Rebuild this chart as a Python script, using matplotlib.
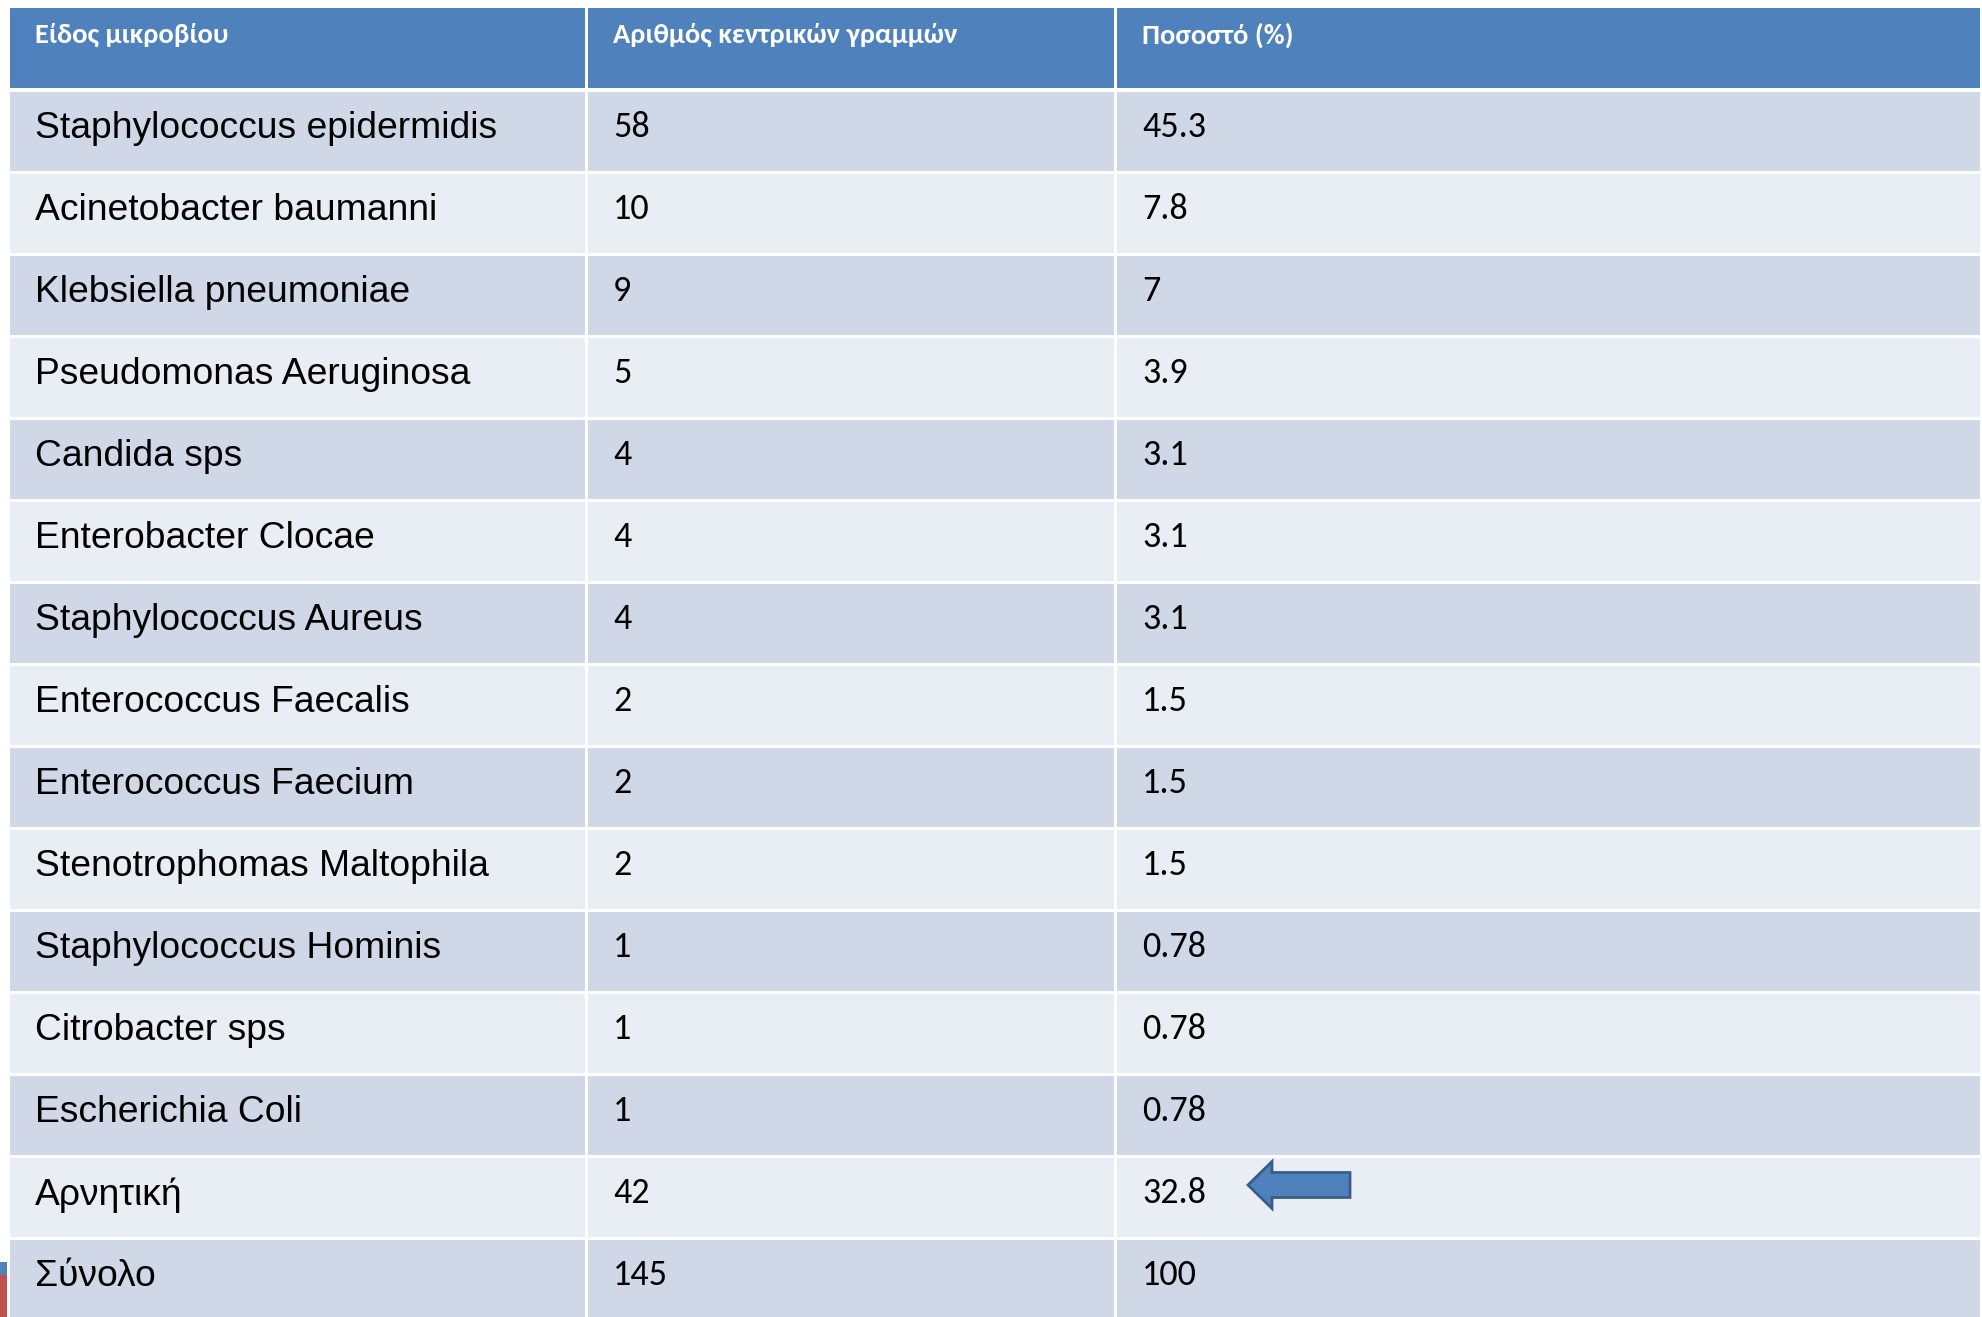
import matplotlib
matplotlib.use('Agg')
import matplotlib.pyplot as plt
from matplotlib.patches import Rectangle, FancyArrow

headers = ['Είδος μικροβίου', 'Αριθμός κεντρικών γραμμών', 'Ποσοστό (%)']
species = ['Staphylococcus epidermidis', 'Acinetobacter baumanni', 'Klebsiella pneumoniae',
           'Pseudomonas Aeruginosa', 'Candida sps', 'Enterobacter Clocae',
           'Staphylococcus Aureus', 'Enterococcus Faecalis', 'Enterococcus Faecium',
           'Stenotrophomas Maltophila', 'Staphylococcus Hominis', 'Citrobacter sps',
           'Escherichia Coli', 'Αρνητική', 'Σύνολο']
counts = [58, 10, 9, 5, 4, 4, 4, 2, 2, 2, 1, 1, 1, 42, 145]
percents = [45.3, 7.8, 7, 3.9, 3.1, 3.1, 3.1, 1.5, 1.5, 1.5, 0.78, 0.78, 0.78, 32.8, 100]
arrow_row = 'Αρνητική'

W, H = 1983, 1317
HEADER_BLUE = '#4F81BD'
ROW_DARK = '#D0D8E8'
ROW_LIGHT = '#E9EDF4'

col_edges = [10, 588, 1117, W]
head_top, head_bot = 8, 88
row_top0 = 92
row_h = 82.0
gap = 3
pad_x = 25

num_font = ['Carlito', 'Lato', 'DejaVu Sans']
name_font = ['Liberation Sans', 'DejaVu Sans']

fig = plt.figure(figsize=(W / 100, H / 100), dpi=100)
ax = fig.add_axes([0, 0, 1, 1])
ax.set_xlim(0, W)
ax.set_ylim(H, 0)
ax.axis('off')

# header
for j, h in enumerate(headers):
    x0, x1 = col_edges[j], col_edges[j + 1]
    ax.add_patch(Rectangle((x0, head_top), x1 - x0 - gap, head_bot - head_top,
                           facecolor=HEADER_BLUE, edgecolor='none'))
    ax.text(x0 + pad_x, 35, h, color='white', fontsize=20.5, fontweight='bold',
            family=num_font, va='center', ha='left')

# body rows
for i, name in enumerate(species):
    y0 = row_top0 + i * row_h
    color = ROW_DARK if i % 2 == 0 else ROW_LIGHT
    for j in range(3):
        x0, x1 = col_edges[j], col_edges[j + 1]
        ax.add_patch(Rectangle((x0, y0), x1 - x0 - gap, row_h - gap,
                               facecolor=color, edgecolor='none'))
    yc = y0 + 35
    ax.text(col_edges[0] + pad_x, yc + 2, name, fontsize=26.8, family=name_font,
            va='center', ha='left', color='black')
    ax.text(col_edges[1] + pad_x, yc, str(counts[i]), fontsize=26, family=num_font,
            va='center', ha='left', color='black')
    ax.text(col_edges[2] + pad_x, yc, f'{percents[i]:g}', fontsize=26, family=num_font,
            va='center', ha='left', color='black')
    if name == arrow_row:
        ax.add_patch(FancyArrow(1350, yc - 8, -102, 0, width=25, head_width=47,
                                head_length=24, length_includes_head=True,
                                facecolor=HEADER_BLUE, edgecolor='#385D8A', linewidth=2))

# small slide decoration at bottom left
ax.add_patch(Rectangle((0, 1262), 7, 13, facecolor=HEADER_BLUE, edgecolor='none'))
ax.add_patch(Rectangle((0, 1275), 7, 42, facecolor='#C0504D', edgecolor='none'))

fig.savefig('out.png', dpi=100, facecolor='white')
